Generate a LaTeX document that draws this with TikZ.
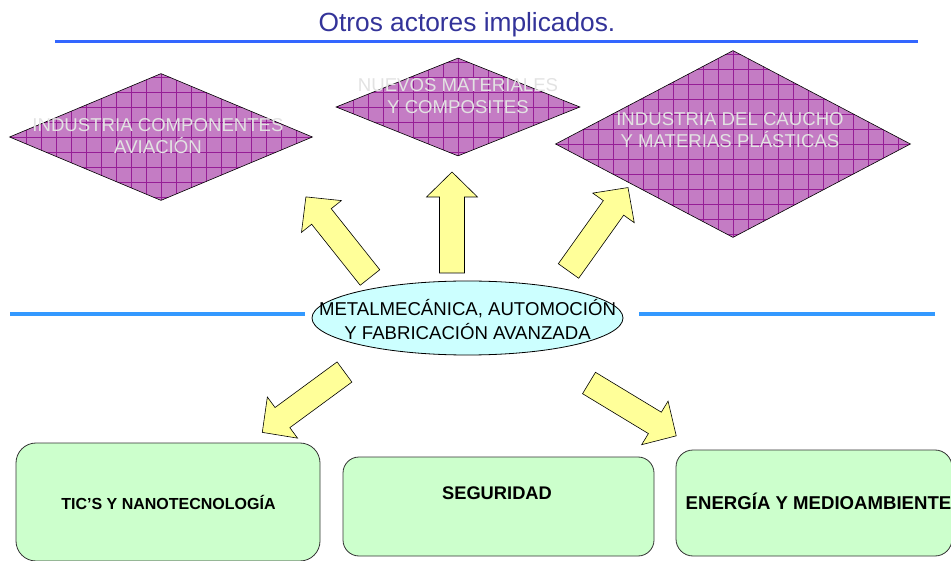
\documentclass[tikz,border=0pt]{standalone}
\usepackage{fontspec}
\setmainfont{Liberation Sans}
\usetikzlibrary{shapes.geometric}
\definecolor{titleblue}{RGB}{51,51,153}
\definecolor{ruleblue}{RGB}{51,102,255}
\definecolor{midblue}{RGB}{51,153,255}
\definecolor{orchid}{RGB}{196,124,196}
\definecolor{gridpurple}{RGB}{150,30,150}
\definecolor{paleyellow}{RGB}{255,255,153}
\definecolor{palecyan}{RGB}{204,255,255}
\definecolor{palegreen}{RGB}{204,255,204}
\definecolor{ghost}{RGB}{226,226,226}
\def\fatarrow(#1)(#2:#3){\draw[fatarrowstyle, shift={(#1)}, rotate=#2] (-12.5,0) -- (-12.5,{-#3+25}) -- (-25.5,{-#3+25}) -- (0,-#3) -- (25.5,{-#3+25}) -- (12.5,{-#3+25}) -- (12.5,0) -- cycle;}

\begin{document}
\begin{tikzpicture}[x=1pt, y=-1pt,
	diamondbox/.style={diamond, draw=black, line width=0.6pt, fill=orchid, inner sep=0pt,
		path picture={\draw[gridpurple, line width=0.5pt, step=15pt] (path picture bounding box.south west) grid (path picture bounding box.north east);}},
	ghosttext/.style={text=ghost, align=center, font=\fontsize{18.6}{22}\selectfont},
	fatarrowstyle/.style={fill=paleyellow, draw=black, line width=0.6pt},
	sectorbox/.style={draw=black!80, line width=0.8pt, fill=palegreen, inner sep=0pt},
	sectortext/.style={anchor=base, font=\bfseries\fontsize{18.6}{22}\selectfont}]
			%%%%% START %%%%%
			\useasboundingbox (0,0) rectangle (951,561);
			
			\node[anchor=base, text=titleblue, font=\fontsize{26.3}{30}\selectfont] (title) at (467,32) {Otros actores implicados.};
			\draw[ruleblue, line width=3pt] (55,42) -- (918,42);
			
			\node[diamondbox, minimum width=303pt, minimum height=127pt] (aviacion) at (161,137) {};
			\node[diamondbox, minimum width=244pt, minimum height=98pt] (materiales) at (458,107) {};
			\node[diamondbox, minimum width=355pt, minimum height=187pt] (caucho) at (733,144) {};
			\node[ghosttext] (aviaciontxt) at (158,136) {INDUSTRIA COMPONENTES\\AVIACIÓN};
			\node[ghosttext] (materialestxt) at (458,96) {NUEVOS MATERIALES\\Y COMPOSITES};
			\node[ghosttext] (cauchotxt) at (730,130) {INDUSTRIA DEL CAUCHO\\Y MATERIAS PLÁSTICAS};
			
			\draw[midblue, line width=4pt] (10,314) -- (305,314);
			\draw[midblue, line width=4pt] (639,314) -- (935,314);
			
			\fatarrow(370,277.5)(38.5:103)
			\fatarrow(452,273)(0:101)
			\fatarrow(568.5,271)(-35.5:102.5)
			\fatarrow(344.5,372)(126.3:102)
			\fatarrow(589,383)(-121.2:102)
			
			\node[ellipse, draw=black, line width=0.8pt, fill=palecyan, minimum width=311pt, minimum height=74pt, inner sep=0pt] (metal) at (467.5,318) {};
			\node[align=center, font=\fontsize{18.6}{24}\selectfont] (metaltxt) at (467.5,319.5) {METALMECÁNICA, AUTOMOCIÓN\\Y FABRICACIÓN AVANZADA};
			
			\node[sectorbox, minimum width=304pt, minimum height=118pt, rounded corners=20pt] (tics) at (168,502) {};
			\node[sectorbox, minimum width=311pt, minimum height=99pt, rounded corners=16pt] (seguridad) at (498.5,506.5) {};
			\node[sectorbox, minimum width=276pt, minimum height=106pt, rounded corners=17pt] (energia) at (814,503) {};
			\node[sectortext, font=\bfseries\fontsize{16}{19}\selectfont] (ticstxt) at (168.5,509.7) {TIC’S Y NANOTECNOLOGÍA};
			\node[sectortext, font=\bfseries\fontsize{18.3}{22}\selectfont] (seguridadtxt) at (497,499.5) {SEGURIDAD};
			\node[sectortext] (energiatxt) at (818.5,509.7) {ENERGÍA Y MEDIOAMBIENTE};
			
			%%%%% END %%%%%
\end{tikzpicture}
\end{document}
